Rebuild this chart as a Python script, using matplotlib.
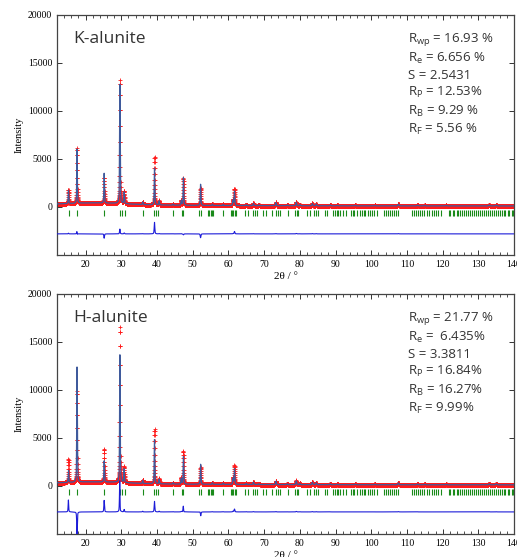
import numpy as np
import matplotlib
matplotlib.use('Agg')
import matplotlib.pyplot as plt
from matplotlib.ticker import MultipleLocator

# peak positions (2theta), observed and calculated net heights, calc offset in position
k_pos = [15.2, 17.6, 25.2, 29.6, 30.8, 36.0, 39.3, 40.6, 44.5, 46.8, 47.4, 52.2, 55.5, 58.5,
         61.3, 61.7, 65.0, 67.0, 68.5, 73.3, 76.5, 79.0, 80.0, 83.5, 84.6, 88.5, 90.5, 95.5,
         101.0, 107.6, 113.0, 115.0, 121.0, 133.0, 135.0]
k_obs = [1450, 5800, 2650, 12900, 1300, 300, 5000, 450, 120, 500, 2800, 1800, 150, 120,
         600, 1750, 100, 250, 80, 350, 80, 400, 120, 250, 200, 80, 60, 60,
         50, 200, 80, 60, 50, 100, 100]
k_calc = [1380, 5650, 3100, 12400, 1200, 280, 3800, 420, 110, 480, 2900, 2200, 140, 110,
          560, 1500, 90, 230, 75, 320, 75, 360, 110, 220, 180, 75, 55, 55,
          45, 170, 75, 55, 45, 90, 90]
k_shift = [0, 0.003, 0, 0, 0, 0, 0, 0, 0, 0, 0, 0, 0, 0,
           0, 0, 0, 0, 0, 0, 0, 0, 0, 0, 0, 0, 0, 0,
           0, 0, 0, 0, 0, 0, 0]

h_pos = k_pos
h_obs = [2450, 9500, 3400, 16200, 1650, 400, 5700, 550, 150, 650, 3400, 1750, 180, 150,
         700, 1950, 120, 280, 90, 380, 90, 430, 130, 270, 220, 90, 60, 60,
         50, 220, 90, 60, 50, 110, 110]
h_calc = [1250, 12000, 2200, 13400, 1400, 330, 4600, 480, 130, 600, 2900, 2100, 160, 130,
          620, 1650, 100, 250, 80, 340, 80, 380, 115, 240, 190, 80, 55, 55,
          45, 190, 80, 55, 45, 95, 95]
h_shift = [0.015, 0.0, 0, 0.01, 0, 0, 0, 0, 0, 0, 0.01, 0.01, 0, 0,
           0, 0, 0, 0, 0, 0, 0, 0, 0, 0, 0, 0, 0, 0,
           0, 0, 0, 0, 0, 0, 0]

# background knots
bg_x = [12, 16, 20, 25, 29, 35, 45, 60, 80, 100, 140]
k_bg = [320, 360, 420, 410, 380, 260, 180, 150, 130, 120, 110]
h_bg = [330, 370, 430, 420, 390, 270, 190, 160, 140, 130, 120]

# Bragg reflection markers
bragg = [15.3, 17.6, 25.1, 29.5, 30.2, 30.9, 36.1, 39.1, 39.6, 40.2, 44.6, 46.9, 47.4, 51.8,
         52.4, 54.2, 54.6, 55.0, 55.3, 55.7, 58.6, 60.6, 61.0, 61.4, 61.8, 62.1, 64.7, 65.5,
         67.0, 67.5, 68.0, 69.8, 70.5, 72.1, 73.4, 73.9, 74.5, 76.8, 78.6, 79.1, 79.6, 82.0,
         82.8, 84.0, 84.5, 85.2, 87.0, 87.5, 89.3, 89.8, 90.3, 90.8, 91.3, 92.2, 93.0, 94.2,
         94.8, 95.3, 95.9, 96.9, 97.4, 97.9, 98.3, 99.0, 99.6, 100.2, 100.8, 101.5, 103.5,
         104.0, 104.6, 105.2, 105.8, 106.4, 107.0, 107.6, 111.4, 111.9, 112.5, 113.0, 113.6,
         114.2, 114.8, 115.5, 116.3, 116.9, 117.5, 118.2, 118.8, 119.6, 121.7, 122.2, 122.8,
         123.3, 123.9, 124.4, 125.0, 125.5, 126.1, 126.6, 127.2, 127.7, 128.3, 128.8, 129.4,
         129.9, 130.5, 131.0, 131.6, 132.1, 132.7, 133.2, 133.8, 134.3, 134.9, 135.4, 136.0,
         136.5, 137.1, 137.6, 138.2, 138.7, 139.3, 139.8]

k_stats = r'R$_\mathregular{wp}$ = 16.93 %' + '\n' + r'R$_\mathregular{e}$ = 6.656 %' + '\n' + \
    'S = 2.5431\n' + r'R$_\mathregular{P}$ = 12.53%' + '\n' + r'R$_\mathregular{B}$ = 9.29 %' + '\n' + \
    r'R$_\mathregular{F}$ = 5.56 %'
h_stats = r'R$_\mathregular{wp}$ = 21.77 %' + '\n' + r'R$_\mathregular{e}$ =  6.435%' + '\n' + \
    'S = 3.3811\n' + r'R$_\mathregular{P}$ = 16.84%' + '\n' + r'R$_\mathregular{B}$ = 16.27%' + '\n' + \
    r'R$_\mathregular{F}$ = 9.99%'

tt = np.arange(12, 140.001, 0.02)


def profile(pos, heights, shift):
    y = np.zeros_like(tt)
    for p, h, s in zip(pos, heights, shift):
        w = 0.17 + 0.001 * p
        c = p + s
        g = np.exp(-4 * np.log(2) * (tt - c) ** 2 / w ** 2)
        l = 1 / (1 + 4 * (tt - c) ** 2 / w ** 2)
        y += h * (0.5 * g + 0.5 * l)
    return y


plt.rcParams['mathtext.fontset'] = 'custom'
plt.rcParams['mathtext.rm'] = 'Open Sans'

fig = plt.figure(figsize=(5.17, 5.57), dpi=100)
panels = [
    ([0.1103, 0.5422, 0.884, 0.4309], 'K-alunite', k_pos, k_obs, k_calc, k_shift, k_bg, -2800, k_stats),
    ([0.1103, 0.0413, 0.884, 0.4309], 'H-alunite', h_pos, h_obs, h_calc, h_shift, h_bg, -2700, h_stats),
]
for rect, name, pos, obs_h, calc_h, shift, bg, off, stats in panels:
    ax = fig.add_axes(rect)
    back = np.interp(tt, bg_x, bg)
    obs = back + profile(pos, obs_h, [0] * len(pos))
    calc = back + profile(pos, calc_h, shift)
    ax.plot(tt, obs, '+', color='#ff1a1a', markersize=3, mew=0.6, zorder=2)
    ax.plot(tt, calc, color='#3f5a9c', lw=0.9, zorder=3)
    ax.plot(tt, obs - calc + off, color='#1c1cd8', lw=0.8, zorder=3)
    ax.vlines(bragg, -950, -350, color='#1a8a1a', lw=0.8, zorder=2)

    ax.set_xlim(12, 140)
    ax.set_ylim(-5000, 20000)
    ax.set_yticks([0, 5000, 10000, 15000, 20000])
    ax.xaxis.set_major_locator(MultipleLocator(10))
    ax.xaxis.set_minor_locator(MultipleLocator(2))
    ax.tick_params(direction='in', top=True, right=True, labelsize=7, length=3.5, width=0.7,
                   colors='#333333', labelcolor='black')
    ax.tick_params(which='minor', direction='in', top=True, length=2, width=0.6, colors='#333333')
    for lab in ax.get_xticklabels() + ax.get_yticklabels():
        lab.set_family('Liberation Serif')
    for sp in ax.spines.values():
        sp.set_color('#444444')
        sp.set_linewidth(0.9)
    ax.set_ylabel('Intensity', family='Liberation Serif', fontsize=7.5, labelpad=3)
    ax.set_xlabel('2θ / °', family='Liberation Serif', fontsize=8, labelpad=2)
    ax.text(0.035, 0.935, name, transform=ax.transAxes, family='Open Sans', fontsize=12.5,
            color='#333333', va='top', ha='left')
    ax.text(0.767, 0.935, stats, transform=ax.transAxes, family='Open Sans', fontsize=9.5,
            color='#333333', va='top', ha='left', linespacing=1.3)

fig.savefig('out.png', dpi=100)
